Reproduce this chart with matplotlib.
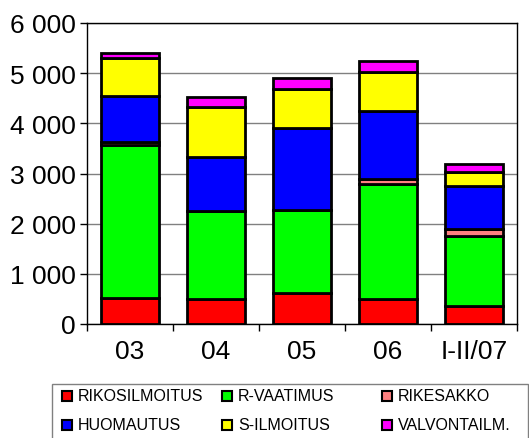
import matplotlib
matplotlib.use("Agg")
import matplotlib.pyplot as plt
from matplotlib.patches import Rectangle
from matplotlib.ticker import FuncFormatter, MultipleLocator, FixedLocator
import numpy as np

plt.rcParams['font.family'] = ['Liberation Sans', 'DejaVu Sans']

categories = ["03", "04", "05", "06", "I-II/07"]
series_names = ["RIKOSILMOITUS", "R-VAATIMUS", "RIKESAKKO", "HUOMAUTUS", "S-ILMOITUS", "VALVONTAILM."]
rikosilmoitus = [510, 490, 620, 490, 350]
r_vaatimus = [3060, 1760, 1650, 2310, 1410]
rikesakko = [60, 10, 10, 90, 130]
huomautus = [910, 1070, 1630, 1360, 870]
s_ilmoitus = [770, 1000, 780, 770, 270]
valvontailm = [90, 200, 210, 230, 160]
colors = ["#FF0000", "#00FF00", "#FF8080", "#0000FF", "#FFFF00", "#FF00FF"]

W, H = 529, 439
fig = plt.figure(figsize=(W / 100, H / 100), dpi=100)
ax = fig.add_axes([87 / W, 1 - 325 / H, (517 - 87) / W, (325 - 24) / H])

x = np.arange(len(categories))
bottom = np.zeros(len(categories))
all_series = [rikosilmoitus, r_vaatimus, rikesakko, huomautus, s_ilmoitus, valvontailm]
for vals, col in zip(all_series, colors):
    ax.bar(x, vals, width=0.67, bottom=bottom, color=col, edgecolor="black",
           linewidth=2.0, zorder=3)
    bottom += np.array(vals)

ax.set_xlim(-0.5, len(categories) - 0.5)
ax.set_ylim(0, 6000)
ax.yaxis.set_major_locator(MultipleLocator(1000))
ax.yaxis.set_major_formatter(FuncFormatter(lambda v, p: f"{int(v):,}".replace(",", " ")))
ax.grid(axis="y", color="#808080", linewidth=1.0, zorder=0)
ax.set_xticks(x)
ax.set_xticklabels(categories)
ax.xaxis.set_minor_locator(FixedLocator(np.arange(-0.5, len(categories), 1.0)))
ax.tick_params(axis="x", which="major", length=0, pad=11, labelsize=19)
ax.tick_params(axis="x", which="minor", length=5, width=1, direction="out")
ax.tick_params(axis="y", length=5, width=1, direction="out", labelsize=19, pad=3)
for s in ax.spines.values():
    s.set_color("black")
    s.set_linewidth(1.0)

# Legend box
fig.patches.append(Rectangle((52 / W, 1 - 445 / H), (528 - 52) / W, 60 / H,
                             transform=fig.transFigure, facecolor="white",
                             edgecolor="#808080", linewidth=1.0))
col_x = [62, 222, 382]
row_y = [397, 426]
for i, (name, col) in enumerate(zip(series_names, colors)):
    r, c = divmod(i, 3)
    sx, sy = col_x[c], row_y[r]
    fig.patches.append(Rectangle((sx / W, 1 - (sy + 5) / H), 10 / W, 10 / H,
                                 transform=fig.transFigure, facecolor=col,
                                 edgecolor="black", linewidth=1.5))
    fig.text((sx + 16) / W, 1 - sy / H, name, fontsize=11.5, va="center", ha="left")

fig.savefig("out.png", dpi=100)
